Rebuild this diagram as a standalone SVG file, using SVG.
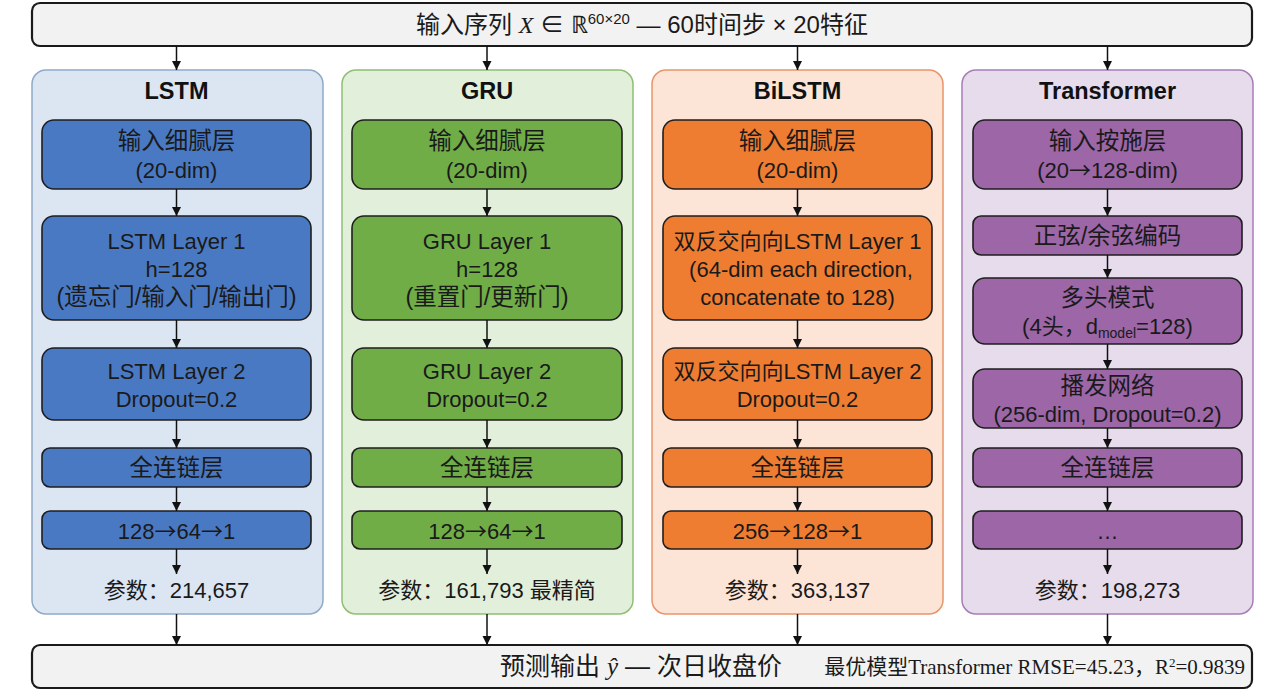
<svg xmlns="http://www.w3.org/2000/svg" width="1280" height="698" viewBox="0 0 1280 698">
<defs>
<marker id="ah" viewBox="0 0 10 10" refX="10" refY="5" markerWidth="9" markerHeight="10" markerUnits="userSpaceOnUse" orient="auto">
<path d="M0,0 L10,5 L0,10 z" fill="#111"/>
</marker>
<style>
.io{fill:#f2f2f2;stroke:#1a1a1a;stroke-width:2.2}
.t{font-family:"Liberation Sans","Noto Sans CJK SC",sans-serif;font-size:22px;fill:#1a1a1a;text-anchor:middle}
.cj{font-size:23.5px}
.ar{font-family:"Noto Sans CJK SC",sans-serif}
.ttl{font-family:"Liberation Sans","Noto Sans CJK SC",sans-serif;font-size:23.5px;font-weight:bold;fill:#111;text-anchor:middle}
.ser{font-family:"Liberation Serif","Noto Sans CJK SC",serif}
.b{stroke:#1e1e1e;stroke-width:1.6}
.lstm{fill:#4a79c3}
.gru{fill:#70ad47}
.bil{fill:#ee7d32}
.trf{fill:#9c66a7}
.c line{stroke:#111;stroke-width:1.5;marker-end:url(#ah)}
</style>
</defs>
<rect width="1280" height="698" fill="#ffffff"/>

<g id="input">
<rect class="io" x="32" y="3" width="1220" height="43" rx="8"/>
<text class="t" style="font-size:24px" x="642" y="33">输入序列 <tspan class="ser" font-style="italic">X</tspan> ∈ <tspan class="ser">ℝ</tspan><tspan style="font-size:15px" dy="-9">60×20</tspan><tspan dy="9"> — 60时间步 × 20特征</tspan></text>
</g>

<g id="panel-lstm">
<rect x="32" y="70" width="291" height="544" rx="14" fill="#dce6f2" stroke="#8ea9c9" stroke-width="1.5"/>
<text class="ttl" x="176.5" y="99">LSTM</text>
</g>
<g id="panel-gru">
<rect x="342" y="70" width="291" height="544" rx="14" fill="#e2efda" stroke="#8fbf72" stroke-width="1.5"/>
<text class="ttl" x="487" y="99">GRU</text>
</g>
<g id="panel-bilstm">
<rect x="652" y="70" width="291" height="544" rx="14" fill="#fce4d6" stroke="#e8956a" stroke-width="1.5"/>
<text class="ttl" x="797.5" y="99">BiLSTM</text>
</g>
<g id="panel-transformer">
<rect x="962" y="70" width="291" height="544" rx="14" fill="#e6dcec" stroke="#a77db6" stroke-width="1.5"/>
<text class="ttl" x="1107.5" y="99">Transformer</text>
</g>

<!-- LSTM nodes -->
<g id="lstm-in"><rect class="b lstm" x="42" y="120" width="269" height="69" rx="12"/>
<text class="t cj" x="176.5" y="149">输入细腻层</text><text class="t" x="176.5" y="178">(20-dim)</text></g>
<g id="lstm-l1"><rect class="b lstm" x="42" y="216" width="269" height="104" rx="12"/>
<text class="t" x="176.5" y="249">LSTM Layer 1</text><text class="t" x="176.5" y="277">h=128</text><text class="t cj" x="176.5" y="305">(遗忘门/输入门/输出门)</text></g>
<g id="lstm-l2"><rect class="b lstm" x="42" y="348" width="269" height="72" rx="12"/>
<text class="t" x="176.5" y="379">LSTM Layer 2</text><text class="t" x="176.5" y="407">Dropout=0.2</text></g>
<g id="lstm-fc"><rect class="b lstm" x="42" y="448" width="269" height="39" rx="8"/>
<text class="t cj" x="176.5" y="476">全连链层</text></g>
<g id="lstm-dims"><rect class="b lstm" x="42" y="511" width="269" height="38" rx="8"/>
<text class="t" x="176.5" y="539">128<tspan class="ar">→</tspan>64<tspan class="ar">→</tspan>1</text></g>
<g id="lstm-params"><text class="t" x="176.5" y="598">参数：214,657</text></g>

<!-- GRU nodes -->
<g id="gru-in"><rect class="b gru" x="352" y="120" width="270" height="69" rx="12"/>
<text class="t cj" x="487" y="149">输入细腻层</text><text class="t" x="487" y="178">(20-dim)</text></g>
<g id="gru-l1"><rect class="b gru" x="352" y="216" width="270" height="104" rx="12"/>
<text class="t" x="487" y="249">GRU Layer 1</text><text class="t" x="487" y="277">h=128</text><text class="t cj" x="487" y="305">(重置门/更新门)</text></g>
<g id="gru-l2"><rect class="b gru" x="352" y="348" width="270" height="72" rx="12"/>
<text class="t" x="487" y="379">GRU Layer 2</text><text class="t" x="487" y="407">Dropout=0.2</text></g>
<g id="gru-fc"><rect class="b gru" x="352" y="448" width="270" height="39" rx="8"/>
<text class="t cj" x="487" y="476">全连链层</text></g>
<g id="gru-dims"><rect class="b gru" x="352" y="511" width="270" height="38" rx="8"/>
<text class="t" x="487" y="539">128<tspan class="ar">→</tspan>64<tspan class="ar">→</tspan>1</text></g>
<g id="gru-params"><text class="t" x="487" y="598">参数：161,793 最精简</text></g>

<!-- BiLSTM nodes -->
<g id="bil-in"><rect class="b bil" x="663" y="120" width="269" height="69" rx="12"/>
<text class="t cj" x="797.5" y="149">输入细腻层</text><text class="t" x="797.5" y="178">(20-dim)</text></g>
<g id="bil-l1"><rect class="b bil" x="663" y="216" width="269" height="104" rx="12"/>
<text class="t" x="797.5" y="249">双反交向向LSTM Layer 1</text><text class="t" x="801" y="277">(64-dim each direction,</text><text class="t" x="797.5" y="305">concatenate to 128)</text></g>
<g id="bil-l2"><rect class="b bil" x="663" y="348" width="269" height="72" rx="12"/>
<text class="t" x="797.5" y="379">双反交向向LSTM Layer 2</text><text class="t" x="797.5" y="407">Dropout=0.2</text></g>
<g id="bil-fc"><rect class="b bil" x="663" y="448" width="269" height="39" rx="8"/>
<text class="t cj" x="797.5" y="476">全连链层</text></g>
<g id="bil-dims"><rect class="b bil" x="663" y="511" width="269" height="38" rx="8"/>
<text class="t" x="797.5" y="539">256<tspan class="ar">→</tspan>128<tspan class="ar">→</tspan>1</text></g>
<g id="bil-params"><text class="t" x="797.5" y="598">参数：363,137</text></g>

<!-- Transformer nodes -->
<g id="trf-in"><rect class="b trf" x="973" y="120" width="269" height="69" rx="12"/>
<text class="t cj" x="1107.5" y="149">输入按施层</text><text class="t" x="1107.5" y="178">(20<tspan class="ar">→</tspan>128-dim)</text></g>
<g id="trf-pe"><rect class="b trf" x="973" y="216" width="269" height="39" rx="8"/>
<text class="t cj" x="1107.5" y="244">正弦/余弦编码</text></g>
<g id="trf-mha"><rect class="b trf" x="973" y="278" width="269" height="66" rx="12"/>
<text class="t cj" x="1107.5" y="306">多头模式</text><text class="t" x="1107.5" y="334">(4头，d<tspan style="font-size:14px" dy="4">model</tspan><tspan dy="-4">=128)</tspan></text></g>
<g id="trf-ffn"><rect class="b trf" x="973" y="369" width="269" height="59" rx="12"/>
<text class="t cj" x="1107.5" y="394">播发网络</text><text class="t" x="1107.5" y="422">(256-dim, Dropout=0.2)</text></g>
<g id="trf-fc"><rect class="b trf" x="973" y="448" width="269" height="39" rx="8"/>
<text class="t cj" x="1107.5" y="476">全连链层</text></g>
<g id="trf-dims"><rect class="b trf" x="973" y="511" width="269" height="38" rx="8"/>
<text class="t" x="1107.5" y="539">…</text></g>
<g id="trf-params"><text class="t" x="1107.5" y="598">参数：198,273</text></g>

<g id="output">
<rect class="io" x="32" y="645" width="1220" height="43" rx="8"/>
<text class="t" style="font-size:25px" x="641" y="675">预测输出 <tspan class="ser" font-style="italic">ŷ</tspan> — 次日收盘价</text>
<text x="1245" y="674" text-anchor="end" font-size="21" fill="#1a1a1a" font-family="'Liberation Serif','Noto Sans CJK SC',serif">最优模型Transformer RMSE=45.23，R<tspan font-size="13" dy="-7">2</tspan><tspan dy="7">=0.9839</tspan></text>
</g>

<g id="connectors" class="c">
<line x1="176.5" y1="46" x2="176.5" y2="70"/>
<line x1="487" y1="46" x2="487" y2="70"/>
<line x1="797.5" y1="46" x2="797.5" y2="70"/>
<line x1="1107.5" y1="46" x2="1107.5" y2="70"/>

<line x1="176.5" y1="189" x2="176.5" y2="216"/>
<line x1="176.5" y1="320" x2="176.5" y2="348"/>
<line x1="176.5" y1="420" x2="176.5" y2="448"/>
<line x1="176.5" y1="487" x2="176.5" y2="511"/>
<line x1="176.5" y1="549" x2="176.5" y2="574"/>

<line x1="487" y1="189" x2="487" y2="216"/>
<line x1="487" y1="320" x2="487" y2="348"/>
<line x1="487" y1="420" x2="487" y2="448"/>
<line x1="487" y1="487" x2="487" y2="511"/>
<line x1="487" y1="549" x2="487" y2="574"/>

<line x1="797.5" y1="189" x2="797.5" y2="216"/>
<line x1="797.5" y1="320" x2="797.5" y2="348"/>
<line x1="797.5" y1="420" x2="797.5" y2="448"/>
<line x1="797.5" y1="487" x2="797.5" y2="511"/>
<line x1="797.5" y1="549" x2="797.5" y2="574"/>

<line x1="1107.5" y1="189" x2="1107.5" y2="216"/>
<line x1="1107.5" y1="255" x2="1107.5" y2="278"/>
<line x1="1107.5" y1="344" x2="1107.5" y2="369"/>
<line x1="1107.5" y1="428" x2="1107.5" y2="448"/>
<line x1="1107.5" y1="487" x2="1107.5" y2="511"/>
<line x1="1107.5" y1="549" x2="1107.5" y2="574"/>

<line x1="176.5" y1="614" x2="176.5" y2="645"/>
<line x1="487" y1="614" x2="487" y2="645"/>
<line x1="797.5" y1="614" x2="797.5" y2="645"/>
<line x1="1107.5" y1="614" x2="1107.5" y2="645"/>
</g>
</svg>
